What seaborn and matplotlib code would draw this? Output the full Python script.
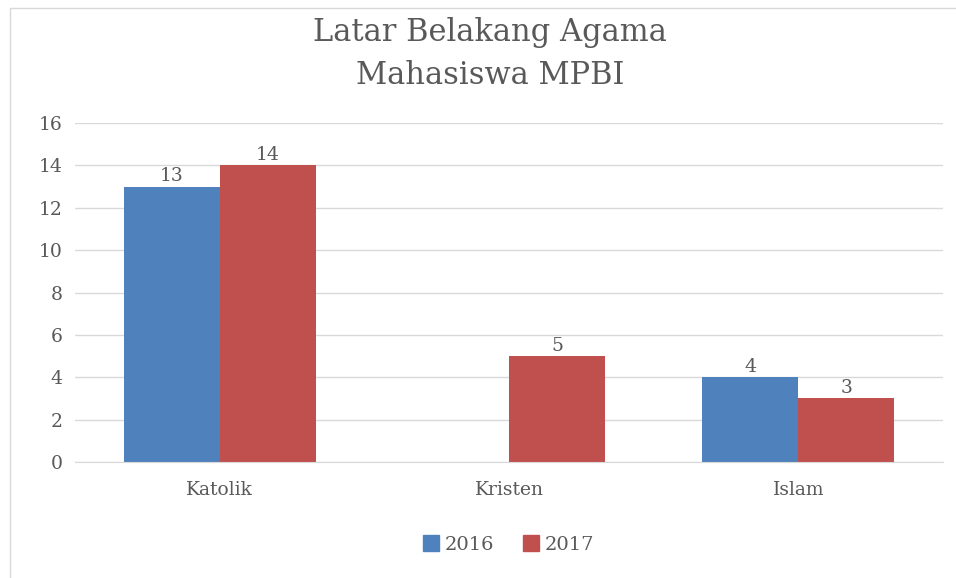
#bar chart: religious background of MPBI students, 2016 vs 2017
import pandas as pd
import matplotlib.pyplot as plt
import seaborn as sns
from matplotlib.lines import Line2D

categories = ["Katolik", "Kristen", "Islam"]
years = ["2016", "2017"]
values_2016 = [13, 0, 4]
values_2017 = [14, 5, 3]

df = pd.DataFrame({
    "agama": categories * 2,
    "tahun": [years[0]] * 3 + [years[1]] * 3,
    "jumlah": values_2016 + values_2017,
})

sns.set_style("white")
plt.rcParams["font.family"] = ["DejaVu Serif", "DejaVu Sans"]
text_col = "#595959"
palette = {"2016": "#4F81BD", "2017": "#C0504D"}

fig = plt.figure(figsize=(9.56, 5.78), dpi=100)
ax = fig.add_axes([75 / 956, 1 - 462 / 578, 868 / 956, 339 / 578])

sns.barplot(data=df, x="agama", y="jumlah", hue="tahun", order=categories,
            hue_order=years, palette=palette, width=0.664, saturation=1,
            linewidth=0, ax=ax, legend=False)

#labels on top, skip the empty bar
for cont in ax.containers:
    labels = [f"{v:.0f}" if v > 0 else "" for v in cont.datavalues]
    ax.bar_label(cont, labels=labels, padding=1, fontsize=13.5, color=text_col)

ax.set_ylim(0, 16)
ax.set_yticks(range(0, 17, 2))
ax.yaxis.grid(True, color="#D9D9D9", linewidth=1)
ax.set_axisbelow(True)
for s in ["top", "right", "left"]:
    ax.spines[s].set_visible(False)
ax.spines["bottom"].set_color("#D9D9D9")
ax.set_xlabel("")
ax.set_ylabel("")
ax.tick_params(axis="both", length=0, labelsize=13.5, colors=text_col)
ax.tick_params(axis="x", pad=14)
ax.tick_params(axis="y", pad=9)

fig.text(490 / 956, 1 - 54 / 578, "Latar Belakang Agama\nMahasiswa MPBI",
         ha="center", va="center", fontsize=22, color=text_col, linespacing=1.5)

handles = [Line2D([0], [0], marker="s", linestyle="", markersize=11,
                  markerfacecolor=palette[y], markeredgecolor=palette[y]) for y in years]
fig.legend(handles, years, loc="center", bbox_to_anchor=(503 / 956, 1 - 545 / 578),
           ncol=2, frameon=False, fontsize=14, handletextpad=-0.3, columnspacing=0.9,
           labelcolor=text_col)

#chart border (only top and left visible in the crop)
fig.add_artist(Line2D([10 / 956, 10 / 956], [0, 1 - 8 / 578], transform=fig.transFigure,
                      color="#D9D9D9", linewidth=1))
fig.add_artist(Line2D([10 / 956, 1], [1 - 8 / 578, 1 - 8 / 578], transform=fig.transFigure,
                      color="#D9D9D9", linewidth=1))

fig.savefig("out.png", dpi=100)
